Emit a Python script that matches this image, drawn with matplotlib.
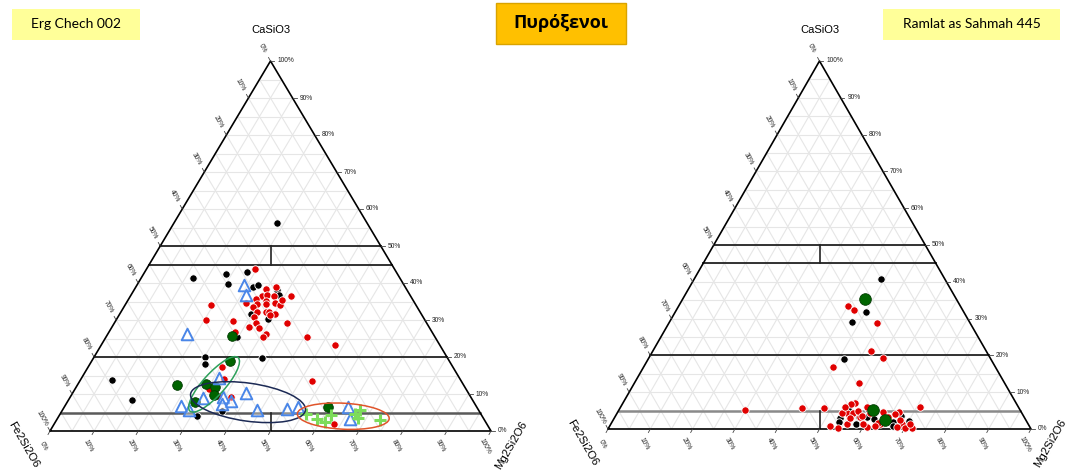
import numpy as np
from matplotlib import pyplot as plt
from matplotlib.patches import Ellipse, Rectangle
from matplotlib.transforms import ScaledTranslation

# ---- Erg Chech 002 : CaSiO3 (Wo) and Mg2Si2O6 (En) in %, Fe2Si2O6 = rest ----
erg_black_wo = [56.2, 41.4, 42.4, 39.8, 42.9, 39.0, 39.5, 38.1, 36.8, 31.7, 30.2, 25.5,
                20.1, 18.1, 19.7, 13.9, 8.5, 5.5, 4.0]
erg_black_en = [23.4, 11.7, 18.7, 20.5, 23.2, 26.5, 27.4, 32.4, 33.5, 29.7, 34.4, 29.7,
                25.1, 26.0, 38.2, 7.1, 14.3, 36.3, 31.3]

erg_red_wo = [43.9, 38.5, 38.9, 36.6, 36.7, 36.6, 36.4, 35.6, 35.2, 34.2, 34.3, 34.6, 34.1,
              34.7, 34.0, 33.4, 32.2, 32.1, 32.1, 31.7, 30.7, 29.2, 27.9, 28.0, 29.3, 30.0,
              29.6, 26.8, 26.1, 25.3, 25.3, 31.3, 23.2, 13.6, 2.0, 17.4, 14.1, 11.4, 9.5,
              9.1, 35.4]
erg_red_en = [24.6, 29.7, 31.7, 29.7, 30.9, 32.5, 36.4, 28.8, 31.4, 29.8, 31.9, 33.7, 35.2,
              27.2, 19.6, 29.4, 30.8, 32.9, 33.6, 35.2, 31.0, 32.0, 33.5, 31.1, 39.2, 20.4,
              26.7, 28.6, 35.9, 35.6, 45.7, 34.3, 53.0, 52.5, 63.5, 30.2, 32.3, 30.3, 33.3,
              36.5, 34.9]

erg_green_wo = [18.9, 12.4, 12.6, 11.8, 9.6, 7.8, 25.7, 6.6]
erg_green_en = [31.4, 22.6, 29.0, 31.6, 32.3, 28.9, 28.4, 59.7]

erg_tri_wo = [39.5, 36.8, 26.3, 10.4, 9.0, 9.1, 8.2, 7.2, 6.8, 5.6, 5.6, 5.9, 6.6, 14.2,
              6.6, 3.2]
erg_tri_en = [24.2, 26.0, 18.0, 39.2, 30.3, 34.7, 37.0, 35.5, 26.2, 28.8, 44.1, 50.7, 53.0,
              31.3, 64.3, 66.4]

erg_cross_wo = [4.5, 3.3, 2.3, 4.4, 5.8, 3.4, 3.1, 4.6]
erg_cross_en = [55.7, 59.0, 61.2, 61.5, 67.4, 68.1, 73.3, 66.9]

# groups ringed on the Erg Chech diagram: centre En, centre Wo, colour
erg_ring_en = [30.9, 41.0, 64.5]
erg_ring_wo = [12.6, 7.8, 4.0]
erg_ring_col = ['#2ca05a', '#1c2a55', '#e0542a']

# ---- Ramlat as Sahmah 445 ----
ras_black_wo = [40.8, 31.9, 29.1, 18.9, 5.5, 5.3, 3.1, 1.8, 1.4, 3.3, 2.8, 2.0, 0.8, 3.5,
                2.2, 3.2]
ras_black_en = [44.1, 45.1, 43.1, 46.4, 58.6, 54.2, 53.2, 53.6, 57.9, 59.5, 61.4, 66.3,
                66.9, 67.6, 70.0, 57.8]

ras_red_wo = [33.3, 32.4, 28.8, 21.3, 19.3, 16.9, 12.5, 6.1, 5.6, 5.7, 5.2, 7.0, 6.7, 4.3,
              3.3, 4.4, 1.4, 0.4, 0.6, 4.6, 1.4, 1.4, 4.6, 0.4, 0.4, 1.3, 1.7, 4.0, 2.4,
              1.3, 0.5, 6.1, 4.9, 4.3, 2.9, 3.5, 3.3, 6.0, 0.8, 0.8, 4.3]
ras_red_en = [40.1, 42.0, 49.3, 51.5, 55.4, 44.8, 53.1, 70.7, 48.2, 43.0, 29.9, 55.0, 54.0,
              54.3, 57.9, 55.8, 55.9, 54.1, 60.9, 62.8, 63.6, 68.7, 66.6, 71.7, 70.0, 59.6,
              62.9, 65.8, 67.8, 70.8, 68.0, 58.1, 56.6, 53.1, 55.8, 58.2, 64.6, 53.0, 62.7,
              52.1, 59.8]

ras_green_wo = [35.3, 5.2, 2.4]
ras_green_en = [43.2, 60.0, 64.4]


def tern(en, wo):
    en = np.asarray(en, float)
    wo = np.asarray(wo, float)
    return en + wo / 2, wo


def frame(ax, low_col):
    ax.set_xlim(0, 100)
    ax.set_ylim(0, 100)
    ax.axis('off')
    # 5 % grid
    for k in range(5, 100, 5):
        ax.plot([k / 2, 100 - k / 2], [k, k], color='#e6e6e6', lw=0.8, zorder=0)
        ax.plot([k, k + (100 - k) / 2], [0, 100 - k], color='#e6e6e6', lw=0.8, zorder=0)
        ax.plot([100 - k, (100 - k) / 2], [0, 100 - k], color='#e6e6e6', lw=0.8, zorder=0)
    # pyroxene fields
    for w in [20, 45, 50]:
        ax.plot([w / 2, 100 - w / 2], [w, w], color='#222222', lw=1.3, zorder=1)
    ax.plot([2.5, 97.5], [5, 5], color=low_col, lw=1.8, zorder=1)
    ax.plot([50, 50], [0, 5], color='#222222', lw=1.2, zorder=1)
    ax.plot([50, 50], [45, 50], color='#222222', lw=1.2, zorder=1)
    # outline
    ax.plot([0, 100, 50, 0], [0, 0, 100, 0], color='black', lw=1.2, zorder=2,
            clip_on=False)
    # ticks and labels
    tk = dict(fontsize=4.8, color='#222222', family='Liberation Sans')
    for v in range(0, 101, 10):
        # CaSiO3 on the right edge
        x, y = 100 - v / 2, v
        ax.plot([x, x + 0.9], [y, y], color='#444444', lw=0.6, clip_on=False)
        ax.text(x + 1.6, y, f'{v}%', ha='left', va='center', **tk)
        # Mg2Si2O6 on the bottom edge
        ax.plot([v, v - 0.45], [0, -0.95], color='#444444', lw=0.6, clip_on=False)
        ax.text(v - 1.4, -4.1, f'{v}%', ha='center', va='center', rotation=-60, **tk)
        # Fe2Si2O6 on the left edge
        wo = 100 - v
        ax.plot([wo / 2, wo / 2 - 0.45], [wo, wo + 0.95], color='#444444', lw=0.6,
                clip_on=False)
        ax.text(wo / 2 - 1.8, wo + 3.4, f'{v}%', ha='center', va='center',
                rotation=-60, **tk)
    ax.text(50, 108.4, 'CaSiO3', fontsize=8, ha='center', va='center',
            family='Liberation Sans')
    ax.text(-5.9, -3.6, 'Fe2Si2O6', fontsize=8.2, ha='center', va='center',
            rotation=-60, family='Liberation Sans')
    ax.text(104.6, -3.8, 'Mg2Si2O6', fontsize=8.2, ha='center', va='center',
            rotation=60, family='Liberation Sans')


dot = dict(s=28, edgecolors='white', linewidths=0.6, zorder=4, clip_on=False)

fig = plt.figure(figsize=(10.7, 4.7), dpi=100)

# header boxes
ov = fig.add_axes([0, 0, 1, 1])
ov.set_xlim(0, 1070)
ov.set_ylim(470, 0)
ov.axis('off')
ov.add_patch(Rectangle((12, 9), 128, 31, color='#ffff99', lw=0))
ov.text(76, 24.5, 'Erg Chech 002', fontsize=10, ha='center', va='center',
        family=['Lato', 'DejaVu Sans'])
ov.add_patch(Rectangle((496, 3), 130, 41, facecolor='#ffc000', edgecolor='#d9a300', lw=1))
ov.text(561, 23.5, 'Πυρόξενοι', fontsize=13, weight='bold', ha='center', va='center',
        family=['Open Sans', 'DejaVu Sans'])
ov.add_patch(Rectangle((883, 9), 177, 31, color='#ffff99', lw=0))
ov.text(971.5, 24.5, 'Ramlat as Sahmah 445', fontsize=10, ha='center', va='center',
        family=['Lato', 'DejaVu Sans'])

# Erg Chech 002
ax1 = fig.add_axes([50 / 1070, 39 / 470, 441 / 1070, 370 / 470])
frame(ax1, '#5a5a5a')
ax1.scatter(*tern(erg_black_en, erg_black_wo), color='black', **dot)
ax1.scatter(*tern(erg_red_en, erg_red_wo), color='#e00000', **dot)
ax1.scatter(*tern(erg_green_en, erg_green_wo), s=48, color='#006400',
            edgecolors='#003a00', linewidths=0.6, zorder=5)
ax1.scatter(*tern(erg_tri_en, erg_tri_wo), s=70, marker='^', facecolors=(1, 1, 1, 0.35),
            edgecolors='#4a86e8', linewidths=1.4, zorder=6)
ax1.scatter(*tern(erg_cross_en, erg_cross_wo), s=70, marker='+', color='#7ddc5a',
            linewidths=2.2, zorder=6)
ring_size = [(72, 22, 48), (116, 38, -8), (92, 26, -3)]
for en, wo, col, (w, h, ang) in zip(erg_ring_en, erg_ring_wo, erg_ring_col, ring_size):
    cx, cy = tern(en, wo)
    tr = fig.dpi_scale_trans + ScaledTranslation(cx, cy, ax1.transData)
    ax1.add_patch(Ellipse((0, 0), w / 100, h / 100, angle=ang, fill=False,
                          edgecolor=col, lw=1.1, transform=tr, zorder=7))

# Ramlat as Sahmah 445
ax2 = fig.add_axes([608 / 1070, 41 / 470, 423 / 1070, 368 / 470])
frame(ax2, '#8a8a8a')
ax2.scatter(*tern(ras_black_en, ras_black_wo), color='black', **dot)
ax2.scatter(*tern(ras_red_en, ras_red_wo), color='#e00000', **dot)
ax2.scatter(*tern(ras_green_en, ras_green_wo), s=70, color='#006400',
            edgecolors='#003a00', linewidths=0.6, zorder=5)

plt.savefig('out.png', dpi=100)
